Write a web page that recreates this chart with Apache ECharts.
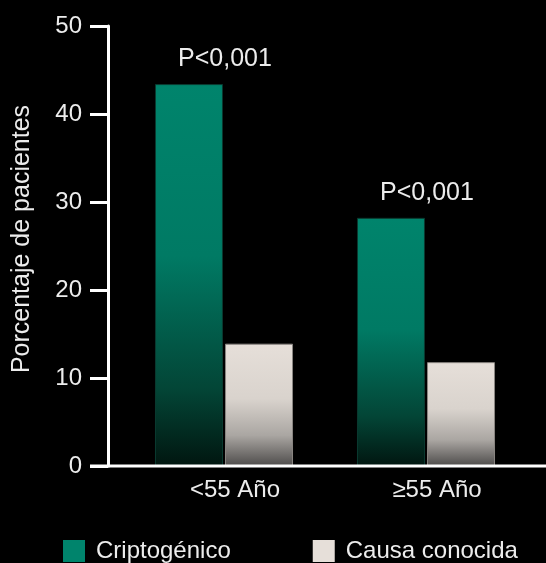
<!DOCTYPE html>
<html>
<head>
<meta charset="utf-8">
<script src="https://cdn.jsdelivr.net/npm/echarts@6/dist/echarts.min.js"></script>
<style>
html,body{margin:0;padding:0;background:#000;}
#chart{width:546px;height:563px;}
</style>
</head>
<body>
<div id="chart"></div>
<script>
const categories = ['<55 Año', '\u226555 Año'];
const criptogenico = [43.4, 28.2];
const causaConocida = [13.9, 11.8];
const pLabels = ['P<0,001', 'P<0,001'];
const yTicks = [0, 10, 20, 30, 40, 50];

const FONT = "'Liberation Sans', Arial, sans-serif";
const TXT = '#ececec';

const chart = echarts.init(document.getElementById('chart'));
chart.setOption({
  backgroundColor: '#000',
  animation: false,
  textStyle: { fontFamily: FONT, color: TXT },
  grid: { left: 123, right: 19, top: 26, bottom: 97 },
  legend: {
    left: 63, top: 539, padding: 0,
    itemWidth: 22, itemHeight: 22, itemGap: 82,
    icon: 'rect',
    textStyle: { fontFamily: FONT, fontSize: 24, color: TXT, padding: [0, 0, 0, 6] },
    data: [
      { name: 'Criptogénico', itemStyle: { color: '#00846c', borderWidth: 0 } },
      { name: 'Causa conocida', itemStyle: { color: '#e6dfd9', borderWidth: 0 } }
    ]
  },
  xAxis: {
    type: 'category',
    data: categories,
    axisLine: { show: false },
    axisTick: { show: false },
    axisLabel: { fontFamily: FONT, fontSize: 24, color: TXT, margin: 12, padding: [0, 0, 0, 22] }
  },
  yAxis: {
    type: 'value',
    min: yTicks[0], max: yTicks[yTicks.length - 1], interval: 10,
    offset: 15,
    name: 'Porcentaje de pacientes',
    nameLocation: 'middle',
    nameRotate: 90,
    nameGap: 73,
    nameTextStyle: { fontFamily: FONT, fontSize: 25, color: TXT, padding: [0, 0, 0, 14] },
    splitLine: { show: false },
    axisLine: { show: true, lineStyle: { color: '#fff', width: 3 } },
    axisTick: { show: true, length: 18, lineStyle: { color: '#fff', width: 3 } },
    axisLabel: { fontFamily: FONT, fontSize: 24, color: TXT, margin: 26 }
  },
  graphic: [{
    type: 'line', z: 10,
    shape: { x1: 90, y1: 466, x2: 546, y2: 466 },
    style: { stroke: '#fff', lineWidth: 3 }
  }],
  series: [
    {
      name: 'Criptogénico', type: 'bar', barWidth: 68, barGap: '3%',
      data: criptogenico,
      itemStyle: {
        color: new echarts.graphic.LinearGradient(0, 0, 0, 1, [
          { offset: 0, color: '#00846c' },
          { offset: 0.45, color: '#007a64' },
          { offset: 0.8, color: '#034536' },
          { offset: 1, color: '#011610' }
        ]),
        borderColor: '#0a3a30', borderWidth: 1
      },
      label: {
        show: true, position: 'top', distance: 12, offset: [36, 0],
        fontFamily: FONT, fontSize: 25, color: TXT,
        formatter: p => pLabels[p.dataIndex]
      }
    },
    {
      name: 'Causa conocida', type: 'bar', barWidth: 68,
      data: causaConocida,
      itemStyle: {
        color: new echarts.graphic.LinearGradient(0, 0, 0, 1, [
          { offset: 0, color: '#e6dfd9' },
          { offset: 0.45, color: '#d9d3cd' },
          { offset: 0.75, color: '#aaa6a2' },
          { offset: 1, color: '#4e4c4b' }
        ]),
        borderColor: '#8a8682', borderWidth: 1
      }
    }
  ]
});
</script>
</body>
</html>
